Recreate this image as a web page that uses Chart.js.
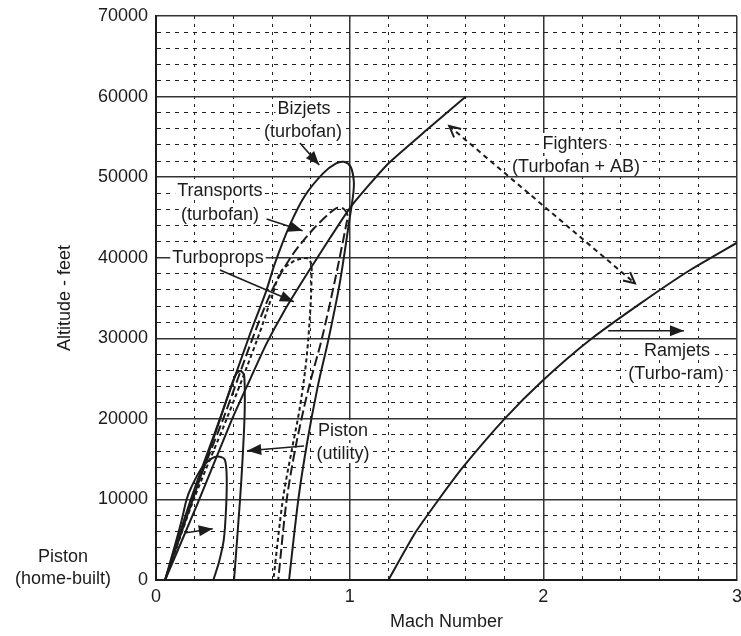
<!DOCTYPE html>
<html>
<head>
<meta charset="utf-8">
<script src="https://cdn.jsdelivr.net/npm/chart.js@4.4.1/dist/chart.umd.min.js"></script>
<style>
  html, body { margin: 0; padding: 0; background: #fff; }
</style>
</head>
<body>
<canvas id="envelope" width="741" height="636"></canvas>
<script>
// flight envelopes: Mach number vs altitude (ft)
const bizjetsMach = [0.047, 0.18, 0.33, 0.485, 0.568, 0.614, 0.692, 0.769, 0.864, 0.93, 0.97, 1.005, 1.021, 1.019, 1.0, 0.95, 0.89, 0.835, 0.78, 0.735, 0.687];
const bizjetsAlt = [0, 10000, 20000, 30500, 35800, 39300, 44100, 47700, 50500, 51700, 51900, 51300, 49600, 48000, 44900, 37000, 29800, 24000, 17000, 10000, 0];

const transportsMach = [0.047, 0.185, 0.347, 0.502, 0.60, 0.70, 0.81, 0.90, 0.941, 0.972, 0.99, 0.984, 0.925, 0.855, 0.79, 0.725, 0.675, 0.631];
const transportsAlt = [0, 10000, 20000, 30200, 36000, 40200, 43500, 45600, 46250, 46000, 45200, 44300, 37300, 29800, 24000, 17000, 10000, 0];

const turbopropsMach = [0.047, 0.195, 0.365, 0.528, 0.60, 0.645, 0.70, 0.743, 0.785, 0.804, 0.804, 0.80, 0.786, 0.77, 0.74, 0.70, 0.655, 0.606];
const turbopropsAlt = [0, 10000, 20000, 30200, 35300, 38300, 39400, 39850, 39900, 39100, 38700, 35000, 29800, 26000, 21000, 16000, 10000, 0];

const pistonUtilityMach = [0.047, 0.19, 0.331, 0.39, 0.415, 0.437, 0.455, 0.458, 0.447, 0.434, 0.403];
const pistonUtilityAlt = [0, 10000, 20000, 24200, 25600, 25950, 25400, 21000, 15000, 10000, 0];

const pistonHomeMach = [0.047, 0.10, 0.133, 0.158, 0.184, 0.236, 0.288, 0.33, 0.356, 0.365, 0.362, 0.35, 0.325, 0.296];
const pistonHomeAlt = [0, 4500, 7450, 10000, 11600, 13900, 15100, 15300, 14900, 12800, 9000, 5000, 2200, 0];

const fightersMach = [0.047, 0.215, 0.39, 0.48, 0.57, 0.66, 0.78, 0.9, 1.0, 1.1, 1.2, 1.4, 1.6];
const fightersAlt = [0, 9500, 19800, 24600, 29300, 33300, 38000, 42500, 46130, 49030, 51700, 55900, 60000];

const ramjetsMach = [1.2, 1.337, 1.458, 1.587, 1.802, 2.0, 2.24, 2.5, 2.75, 3.0];
const ramjetsAlt = [0, 5800, 9930, 14060, 20060, 24820, 29780, 34300, 38350, 41860];

// call-outs, in Mach / altitude
const labels = [
  { text: "Bizjets", x: 0.764, y: 58580 },
  { text: "(turbofan)", x: 0.759, y: 55725 },
  { text: "Transports", x: 0.33, y: 48400 },
  { text: "(turbofan)", x: 0.33, y: 45425 },
  { text: "Turboprops", x: 0.32, y: 40090 },
  { text: "Piston", x: 0.966, y: 18620 },
  { text: "(utility)", x: 0.966, y: 15760 },
  { text: "Fighters", x: 2.163, y: 54240 },
  { text: "(Turbofan + AB)", x: 2.169, y: 51380 },
  { text: "Ramjets", x: 2.69, y: 28545 },
  { text: "(Turbo-ram)", x: 2.685, y: 25690 },
  { text: "Piston", x: -0.48, y: 2980, plain: true },
  { text: "(home-built)", x: -0.48, y: 250, plain: true },
];
const arrows = [
  { from: [0.743, 54230], to: [0.843, 51500] },
  { from: [0.571, 44800], to: [0.757, 43350] },
  { from: [0.33, 38470], to: [0.712, 34540] },
  { from: [0.764, 16630], to: [0.471, 16050] },
  { from: [0.155, 5870], to: [0.293, 6370] },
  { from: [2.335, 30940], to: [2.726, 30940] },
  { from: [1.514, 56340], to: [2.473, 36820], dashed: true },
];

const ink = "#1c1c1c";
Chart.defaults.font.family = "'Liberation Sans', Arial, sans-serif";
Chart.defaults.font.size = 18;
Chart.defaults.color = ink;

const pts = (xs, ys) => xs.map((v, i) => ({ x: v, y: ys[i] }));
const isMajor = (v, step) => Math.abs(v / step - Math.round(v / step)) < 1e-6;

function head(ctx, x1, y1, x2, y2, open) {
  const a = Math.atan2(y2 - y1, x2 - x1);
  const len = open ? 11 : 14, half = 5.5;
  const bx = x2 - len * Math.cos(a), by = y2 - len * Math.sin(a);
  const px = -Math.sin(a) * half, py = Math.cos(a) * half;
  ctx.beginPath();
  ctx.moveTo(bx + px, by + py);
  ctx.lineTo(x2, y2);
  ctx.lineTo(bx - px, by - py);
  if (open) {
    ctx.setLineDash([]);
    ctx.stroke();
  } else {
    ctx.closePath();
    ctx.fill();
  }
}

const notes = {
  id: "notes",
  afterDatasetsDraw(chart) {
    const { ctx, scales: { x, y } } = chart;
    ctx.save();
    ctx.font = "18px 'Liberation Sans', Arial, sans-serif";
    ctx.textAlign = "center";
    ctx.textBaseline = "middle";
    labels.forEach((l) => {
      if (l.plain) return;
      const w = ctx.measureText(l.text).width;
      ctx.fillStyle = "#fff";
      ctx.fillRect(x.getPixelForValue(l.x) - w / 2 - 2, y.getPixelForValue(l.y) - 10, w + 4, 20);
    });
    ctx.strokeStyle = ink;
    ctx.fillStyle = ink;
    arrows.forEach((a) => {
      const x1 = x.getPixelForValue(a.from[0]), y1 = y.getPixelForValue(a.from[1]);
      const x2 = x.getPixelForValue(a.to[0]), y2 = y.getPixelForValue(a.to[1]);
      ctx.lineWidth = a.dashed ? 2 : 1.6;
      ctx.setLineDash(a.dashed ? [5, 4] : []);
      ctx.beginPath();
      ctx.moveTo(x1, y1);
      ctx.lineTo(x2, y2);
      ctx.stroke();
      head(ctx, x1, y1, x2, y2, a.dashed);
      if (a.dashed) head(ctx, x2, y2, x1, y1, true);
    });
    ctx.fillStyle = ink;
    labels.forEach((l) => {
      ctx.fillText(l.text, x.getPixelForValue(l.x), y.getPixelForValue(l.y) + 1);
    });
    ctx.restore();
  },
};

const curve = (xs, ys, dash, tension) => ({
  data: pts(xs, ys),
  showLine: true,
  borderColor: ink,
  borderWidth: 2,
  borderDash: dash,
  pointRadius: 0,
  tension: tension || 0.3,
});

new Chart(document.getElementById("envelope"), {
  type: "scatter",
  data: {
    datasets: [
      curve(bizjetsMach, bizjetsAlt, []),
      curve(transportsMach, transportsAlt, [10, 4]),
      curve(turbopropsMach, turbopropsAlt, [4, 3]),
      curve(pistonUtilityMach, pistonUtilityAlt, []),
      curve(pistonHomeMach, pistonHomeAlt, []),
      curve(fightersMach, fightersAlt, [], 0.2),
      curve(ramjetsMach, ramjetsAlt, [], 0.2),
    ],
  },
  options: {
    responsive: false,
    animation: false,
    layout: { padding: { top: 16, right: 4, left: 0, bottom: 0 } },
    plugins: { legend: { display: false }, tooltip: { enabled: false } },
    scales: {
      x: {
        type: "linear",
        min: 0,
        max: 3,
        afterFit: (s) => { s.height = 56; s.paddingRight = 0; s.paddingLeft = 0; },
        ticks: {
          stepSize: 0.2,
          autoSkip: false,
          maxRotation: 0,
          padding: 6,
          callback: (v) => (isMajor(v, 1) ? String(Math.round(v)) : ""),
        },
        grid: {
          drawTicks: false,
          color: (c) => (c.tick && isMajor(c.tick.value, 1) ? "#333" : "#222"),
          lineWidth: (c) => (c.tick && isMajor(c.tick.value, 1) ? 1.5 : 1),
        },
        border: {
          color: ink,
          width: 2,
          dash: (c) => (c.tick && !isMajor(c.tick.value, 1) ? [3, 5] : []),
        },
        title: { display: true, text: "Mach Number", padding: { top: 0, bottom: 3 } },
      },
      y: {
        min: 0,
        max: 70000,
        afterFit: (s) => { s.width = 156; s.paddingTop = 0; s.paddingBottom = 0; },
        ticks: {
          stepSize: 2000,
          maxTicksLimit: 100,
          autoSkip: false,
          padding: 8,
          callback: (v) => (isMajor(v, 10000) ? String(v) : ""),
        },
        grid: {
          drawTicks: false,
          color: (c) => (c.tick && isMajor(c.tick.value, 10000) ? "#333" : "#222"),
          lineWidth: (c) => (c.tick && isMajor(c.tick.value, 10000) ? 1.5 : 1),
        },
        border: {
          color: ink,
          width: 2,
          dash: (c) => (c.tick && !isMajor(c.tick.value, 10000) ? [4, 5] : []),
        },
        title: { display: true, text: "Altitude - feet", padding: { top: 54, bottom: 0 } },
      },
    },
  },
  plugins: [notes],
});
</script>
</body>
</html>
